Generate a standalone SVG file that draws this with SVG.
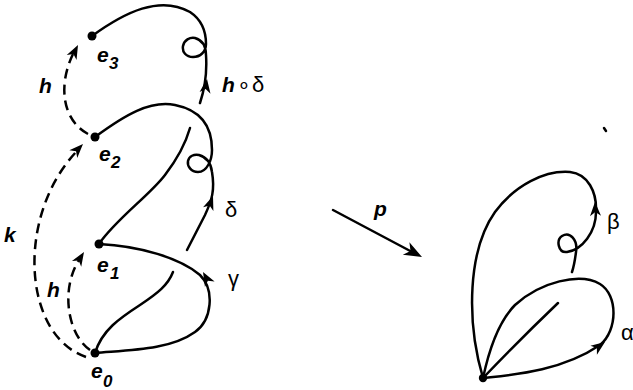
<svg xmlns="http://www.w3.org/2000/svg" xmlns:xlink="http://www.w3.org/1999/xlink" width="633" height="390" viewBox="0 0 633 390">
<style>
.c{fill:none;stroke:#000;stroke-width:2.5;stroke-linecap:round;stroke-linejoin:round}
.d{fill:none;stroke:#000;stroke-width:2.5;stroke-dasharray:10 6}
.lb{font-family:"Liberation Sans",Arial,sans-serif;font-weight:bold;font-style:italic;font-size:21px;fill:#000}
.sub{font-size:17px}
.gr{font-family:"Liberation Sans",Arial,sans-serif;font-size:22px;fill:#000}
.dot{fill:#000}
</style>
<defs>
<path id="ah" d="M0,0 L-14,-5.5 L-10,0 L-14,5.5 Z" fill="#000"/>
<path id="ahp" d="M0,0 L-18,-7 L-13,0 L-18,7 Z" fill="#000"/>
</defs>
<rect width="633" height="390" fill="#fff"/>
<g id="connectors">
  <path class="c" d="M92,36 C125,12 160,-5 190,12 C202,20 206,32 206,44 C206,52 200,57 193,57 C186,57 182,52 183,46 C184,40 190,37 195,38 C202,40 206,46 206,55 C207,70 206,85 200,103"/>
  <path class="c" d="M95,137 C125,115 150,100 175,105 C200,110 212,125 212,150 C212,160 207,172 198,172 C191,172 187,166 188,161 C189,156 194,154 199,155 C206,157 211,163 212,172 C215,190 212,200 205,215 L187,250"/>
  <path class="c" d="M99,244 C115,220 150,195 165,175 C178,158 186,142 190,128"/>
  <path class="c" d="M99,244 C140,246 180,258 200,275 C215,290 212,320 195,332 C170,350 130,350 95,353"/>
  <path class="c" d="M95,353 C102,330 120,318 140,305 C158,293 168,285 173,272"/>
  <path class="d" d="M88,134 C62,120 58,85 73,54"/>
  <path class="d" d="M90,350 C68,335 60,290 79,260"/>
  <path class="d" d="M86,357 C22,335 16,215 77,151"/>
  <path class="c" d="M333,210 L414,253"/>
  <path class="c" d="M483,378 C466,320 468,250 495,212 C515,185 545,170 570,172 C588,174 597,192 596,212 C596,232 582,250 567,252 C558,253 556,240 562,236 C570,231 578,240 576,252 C575,260 574,266 572,272"/>
  <path class="c" d="M483,378 C510,375 560,372 600,345 C618,330 618,295 600,284 C580,272 540,282 515,305 C500,320 490,345 483,378"/>
  <path class="c" d="M483,378 C505,355 535,325 558,303"/>
  <use xlink:href="#ah" transform="translate(207,79) rotate(-82)"/>
  <use xlink:href="#ah" transform="translate(213,196) rotate(-70)"/>
  <use xlink:href="#ah" transform="translate(203,272) rotate(-119)"/>
  <use xlink:href="#ah" transform="translate(78,45) rotate(-63)"/>
  <use xlink:href="#ah" transform="translate(84,252) rotate(-58)"/>
  <use xlink:href="#ah" transform="translate(83,144) rotate(-46)"/>
  <use xlink:href="#ah" transform="translate(595,202) rotate(-92)"/>
  <use xlink:href="#ah" transform="translate(605,342) rotate(-36)"/>
  <use xlink:href="#ahp" transform="translate(422,257) rotate(28)"/>
  <path class="c" d="M604,128 L606,131" stroke-width="2"/>
</g>
<g id="e3"><circle class="dot" cx="92" cy="36" r="4.5"/><text class="lb" x="97" y="62">e</text><text class="lb sub" x="109" y="69">3</text></g>
<g id="e2"><circle class="dot" cx="95" cy="137" r="4.5"/><text class="lb" x="99" y="161">e</text><text class="lb sub" x="111" y="168">2</text></g>
<g id="e1"><circle class="dot" cx="99" cy="244" r="4.5"/><text class="lb" x="97" y="272">e</text><text class="lb sub" x="110" y="279">1</text></g>
<g id="e0"><circle class="dot" cx="95" cy="353" r="4.5"/><text class="lb" x="91" y="378">e</text><text class="lb sub" x="103" y="387">0</text></g>
<g id="base"><circle class="dot" cx="483" cy="378" r="4.2"/></g>
<g id="labels">
  <text class="lb" x="39" y="93">h</text>
  <text class="lb" x="47" y="297">h</text>
  <text class="lb" x="4" y="242">k</text>
  <text class="lb" x="222" y="92">h</text>
  <text class="gr" x="237" y="92" font-family="DejaVu Sans" font-size="19">∘</text>
  <text class="gr" x="252" y="92">δ</text>
  <text class="gr" x="225" y="217">δ</text>
  <text class="gr" x="228" y="286">γ</text>
  <text class="lb" x="374" y="216">p</text>
  <text class="gr" x="607" y="229">β</text>
  <text class="gr" x="621" y="340">α</text>
</g>
</svg>
